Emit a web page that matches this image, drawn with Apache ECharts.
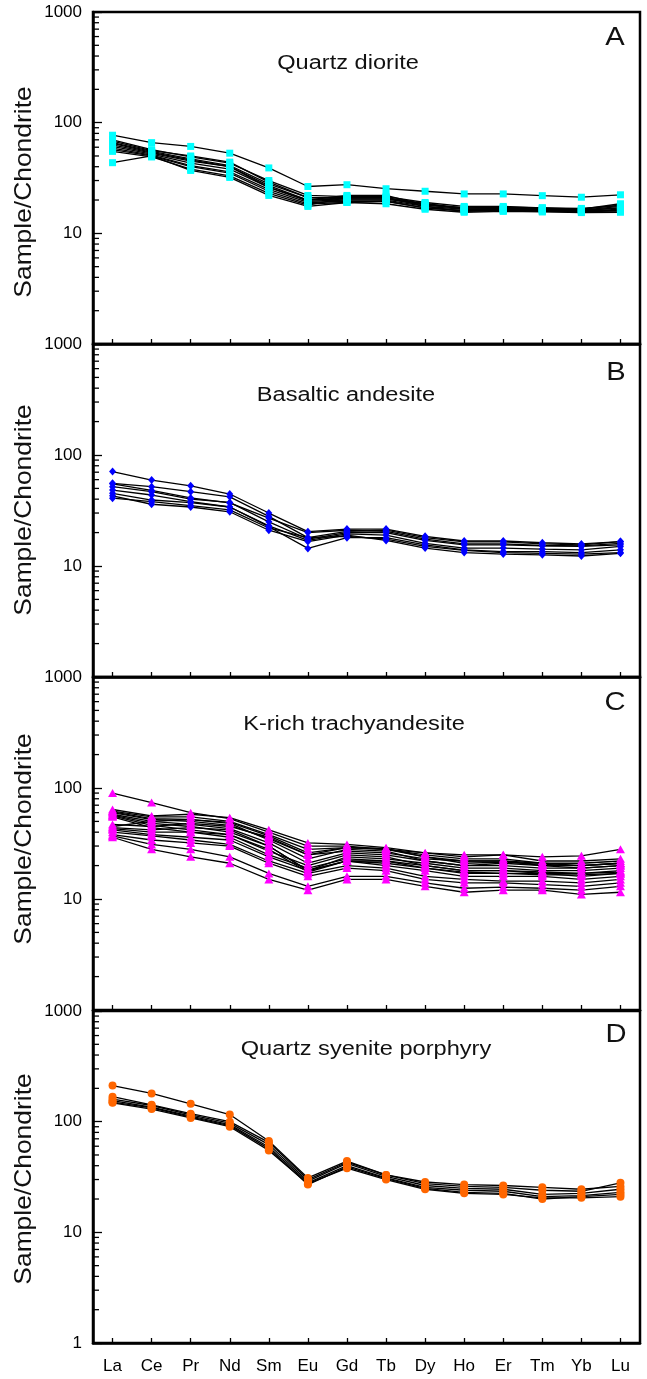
<!DOCTYPE html>
<html><head><meta charset="utf-8">
<script src="https://cdn.jsdelivr.net/npm/echarts@6/dist/echarts.min.js"></script>
<style>html,body{margin:0;padding:0;background:#fff}#c{width:647px;height:1379px}</style>
</head><body><div id="c"></div>
<script>
const elements = ['La','Ce','Pr','Nd','Sm','Eu','Gd','Tb','Dy','Ho','Er','Tm','Yb','Lu'];
const yMinorTicks = [2,3,4,5,6,7,8,9,20,30,40,50,60,70,80,90,200,300,400,500,600,700,800,900];
const panelTitles = ['Quartz diorite','Basaltic andesite','K-rich trachyandesite','Quartz syenite porphyry'];
const panelLetters = ['A','B','C','D'];
const yAxisTitle = 'Sample/Chondrite';

const quartzDiorite = [
  [77,66,61,53,39,26.5,27.5,25.3,24,22.7,22.7,21.9,21.2,22.3],
  [70,57,49,43,30,22,21.5,21.5,19,17.5,17.5,17,16.5,18.5],
  [66,55,47,41,28,21,21,21,18.5,17,17,16.8,16.5,18],
  [63,53,45,40,27,20,20.5,20.5,18,17,16.8,16.5,16.2,17.5],
  [61,52,43,38,26,19.5,20,20,17.5,16.5,16.5,16.3,16,17],
  [59,51,41,36,25,19,19.5,19.5,17,16,16,16,15.8,16.5],
  [57,50,40,35,24,18.5,19,19.5,17,16,16,15.8,15.6,16],
  [55,49,38,33,23,18,21,21,17.5,15.8,16.5,16.2,16,16],
  [65,54,46,40,26,20,22,22,18,17,17.2,17,16.8,17.8],
  [43.5,50,37,32,22,17.5,19,18.5,16.5,15.5,15.8,15.6,15.4,15.5],
  [68,56,50,44,29,21,20.5,20.5,18.5,16.5,16.8,16.5,16.2,17]
];
const basalticAndesite = [
  [71,59.5,52.8,44.5,30,20.4,21.5,21.5,18.5,16.8,16.8,16.2,15.8,16.6],
  [55.6,51.8,46.7,42,28,18,20.5,21,18,16.5,16.5,15.8,15.5,16.6],
  [51.8,46.7,40,37.4,25,17.5,20,20,17,15.5,15.5,15.2,15,15.5],
  [48.3,43.6,38,34,23,17,19.5,19,16,14.5,14.5,14.2,14,15],
  [45.2,39.3,37.2,34,22.6,14.4,18,18,15.5,14,13.5,13.5,13.2,14],
  [42.9,36,34,30.8,21,16.6,19,17,14.5,13.2,12.8,12.6,12.3,13],
  [40.8,38,35,32,22,18,18.5,17.5,15,13.8,13.2,13,12.8,13.2],
  [55,48,41,37,27,20,21,20.5,17.5,15.8,15.8,15.3,15.2,16]
];
const kRichTrachyandesite = [
  [90,74,60,53,40,30,30,28,26,25,25,24,24.5,28],
  [64,56,58,54,42,32,31,29,26,24,25,22,22,23],
  [62,55,55,50,38,28,29,28,25,23,23,21,21,22],
  [60,52,50,46,35,25,27,26,23,22,22,20,20,21],
  [58,50,47,43,32,21,26,25,22,20,20,19,19,20],
  [57,48,45,40,30,18,24,23,21,19,19,18,18,19],
  [56,46,42,38,28,17.5,22,22,20,18,18,17,17,18],
  [55,44,40,36,25,19,23,22,19,17,17,16.5,16.5,17],
  [45,50,52,48,34,23,28,27,22,20,21,20,19,20],
  [44,42,44,42,30,18,22,21,19,17.5,17,17,16,17],
  [43,40,40,38,27,20,25,24,20,18,18,17.5,17,17.5],
  [42,38,36,34,24,18,22,20,18,16,16,16,15,16],
  [40,37,34,31,22,17,20,19,16,15,14.5,14.5,14,15],
  [38,34,32,30,21,16,19,18,15,14,14,13.5,13,14],
  [37,31,28,24,17,13,16,16,14,12.5,12.8,12.5,12,13],
  [36,28,24,21,15,12,15,15,13,11.5,12,12,11,11.5],
  [47,45,48,45,36,25,29,28,24,22,22,21,20,21],
  [61,53,52,49,37,26,29,28.5,24,21,21.5,20.5,20,21]
];
const quartzSyenitePorphyry = [
  [212,180,145,116,67,31,44,33,28.5,27,26.5,25.5,24.5,26],
  [168,142,118,100,65,30,43,33,27.5,26,25.5,24,23.5,28],
  [160,140,115,97,62,29,42,32,26.5,25,24.5,22,22.5,24.5],
  [155,135,112,94,59,28,40,31,25.5,24,23.5,21,21.5,23],
  [150,133,110,92,57,27,39,30.5,25,23,22.5,20,21,22],
  [148,130,108,90,55,27.5,38,30,24.5,22.5,22,20.5,20.5,21]
];

const panelData = [quartzDiorite, basalticAndesite, kRichTrachyandesite, quartzSyenitePorphyry];
const markerSymbols = ['rect','diamond','triangle','circle'];
const markerSizes = [[7,7],[7,8],[9,8],[8,8]];
const markerColors = ['#00FFFF','#0000FF','#FF00FF','#FF6600'];
const gridTops = [12,344,677,1011];
const gridHeights = [332,333,333,332];
const titlePos = [[348,63],[346,395],[354,724],[366,1049]];
const letterPos = [[615,38],[616,373],[615,703],[616,1035]];
const yTitleY = [192,510,839,1179];

const FONT = '"Liberation Sans", Arial, sans-serif';
const grid = [], xAxis = [], yAxis = [], series = [], graphic = [];
for (let i = 0; i < 4; i++) {
  grid.push({left:93, right:7, top:gridTops[i], height:gridHeights[i], show:true, borderColor:'#000', borderWidth:2.5, backgroundColor:'transparent'});
  xAxis.push({gridIndex:i, type:'category', data:elements, boundaryGap:true,
    axisLine:{show:true, lineStyle:{color:'#000', width:2.5}},
    axisTick:{show:true, alignWithLabel:true, inside:true, length:5, lineStyle:{color:'#000', width:1.3}},
    axisLabel:{show:i===3, color:'#000', fontSize:17, fontFamily:FONT, margin:15, interval:0},
    splitLine:{show:false}});
  yAxis.push({gridIndex:i, type:'log', logBase:10, min:1, max:1000,
    axisLine:{show:true, lineStyle:{color:'#000', width:2.5}},
    axisTick:{show:true, inside:true, length:9, lineStyle:{color:'#000', width:1.3}},
    axisLabel:{color:'#000', fontSize:17, fontFamily:FONT, margin:11, showMinLabel:i===3, showMaxLabel:true,
      formatter:v=>String(Math.round(v))},
    splitLine:{show:false}, minorTick:{show:false}});
  // minor log ticks
  series.push({type:'custom', xAxisIndex:i, yAxisIndex:i, silent:true, z:1, animation:false,
    data: yMinorTicks.map(v=>[0,v]),
    renderItem:(params, api)=>{
      const p = api.coord([0, api.value(1)]);
      const x0 = params.coordSys.x;
      return {type:'line', shape:{x1:x0, y1:p[1], x2:x0+6, y2:p[1]}, style:{stroke:'#000', lineWidth:1.3}};
    }});
  const samples = panelData[i];
  samples.forEach(s=>{
    series.push({type:'line', xAxisIndex:i, yAxisIndex:i, data:s, symbol:'none', silent:true, animation:false,
      lineStyle:{color:'#000', width:1.3}, z:2});
  });
  const pts = [];
  samples.forEach(s=>s.forEach((v,j)=>pts.push([elements[j], v])));
  series.push({type:'scatter', xAxisIndex:i, yAxisIndex:i, data:pts, symbol:markerSymbols[i], symbolSize:markerSizes[i],
    itemStyle:{color:markerColors[i], opacity:1}, silent:true, animation:false, z:3});
  graphic.push({type:'text', x:titlePos[i][0], y:titlePos[i][1], scaleX:1.18,
    style:{text:panelTitles[i], fontSize:20, fontFamily:FONT, fill:'#111', align:'center', verticalAlign:'middle', textAlign:'center', textVerticalAlign:'middle'}});
  graphic.push({type:'text', x:letterPos[i][0], y:letterPos[i][1], scaleX:1.12,
    style:{text:panelLetters[i], fontSize:26, fontFamily:FONT, fill:'#111', align:'center', verticalAlign:'middle', textAlign:'center', textVerticalAlign:'middle'}});
  graphic.push({type:'text', x:24, y:yTitleY[i], rotation:Math.PI/2, scaleX:1.1,
    style:{text:yAxisTitle, fontSize:24, fontFamily:FONT, fill:'#111', align:'center', verticalAlign:'middle', textAlign:'center', textVerticalAlign:'middle'}});
}
const chart = echarts.init(document.getElementById('c'), null, {renderer:'canvas'});
chart.setOption({animation:false, backgroundColor:'#fff', grid, xAxis, yAxis, series, graphic});
</script></body></html>
